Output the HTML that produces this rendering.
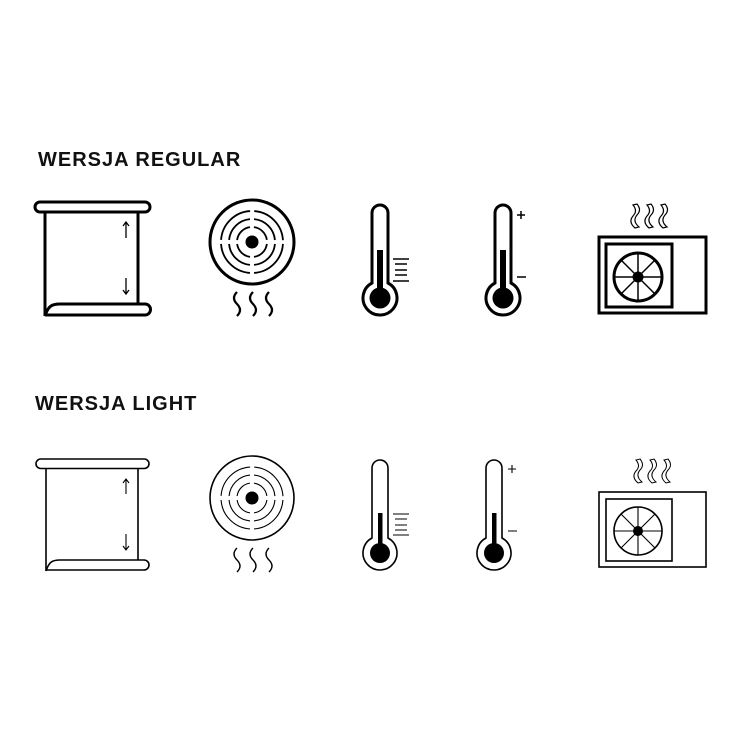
<!DOCTYPE html>
<html><head><meta charset="utf-8"><style>
html,body{margin:0;padding:0;background:#fff;}
svg{display:block}
text{font-family:"Liberation Sans",sans-serif;font-weight:bold;fill:#111}
</style></head><body>
<svg width="750" height="750" viewBox="0 0 750 750" xmlns="http://www.w3.org/2000/svg">
<rect width="750" height="750" fill="#fff"/>
<text x="38" y="166" font-size="20" letter-spacing="1">WERSJA REGULAR</text>
<text x="35" y="410" font-size="20" letter-spacing="1">WERSJA LIGHT</text>

<!-- REGULAR -->
<g fill="none" stroke="#000" stroke-width="3">
  <rect x="35" y="202" width="115" height="10" rx="5"/>
  <path d="M45 212 V316"/>
  <path d="M138 212 V304"/>
  <path d="M45 316 C48 306 52 304 60 304 H145 A5.5 5.5 0 0 1 145 315 H45"/>
  <g stroke-width="1.3"><path d="M126 223 V238 M123 226 L126 222 L129 226"/><path d="M126 278 V294 M123 290 L126 294 L129 290"/></g>
  <circle cx="252" cy="242" r="42"/>
  <g stroke-width="1.8">
    <circle cx="252" cy="242" r="31" stroke-dasharray="44.5 4.2" stroke-dashoffset="-2"/>
    <circle cx="252" cy="242" r="23" stroke-dasharray="32 4.1" stroke-dashoffset="-2"/>
    <circle cx="252" cy="242" r="15" stroke-dasharray="19.5 4" stroke-dashoffset="-2"/>
  </g>
  <g stroke-width="2.2"><path d="M237 292 q-6 6 0 12 q6 6 0 12"/><path d="M253 292 q-6 6 0 12 q6 6 0 12"/><path d="M269 292 q-6 6 0 12 q6 6 0 12"/></g>
  <path d="M372 283 V213 A8 8 0 0 1 388 213 V283 A17 17 0 1 1 372 283 Z"/>
  <g stroke-width="1.5"><path d="M393 259 H409 M395 264 H407 M395 270 H407 M395 275 H407 M393 281 H409"/></g>
  <path d="M495 283 V213 A8 8 0 0 1 511 213 V283 A17 17 0 1 1 495 283 Z"/>
  <g stroke-width="1.5"><path d="M517 215 H525 M521 211 V219 M517 277 H526"/></g>
  <rect x="599" y="237" width="107" height="76"/>
  <rect x="606" y="244" width="66" height="63"/>
  <circle cx="638" cy="277" r="24"/>
  <g stroke-width="1.5"><path d="M638 253 V301 M614 277 H662 M621 260 L655 294 M655 260 L621 294"/></g>
  <g stroke-width="1.2">
    <path d="M635 228 q-7-6 -2-12 q5-5 0-11 l4-1 q5 6 0 11 q-5 6 2 12 z"/>
    <path d="M649 228 q-7-6 -2-12 q5-5 0-11 l4-1 q5 6 0 11 q-5 6 2 12 z"/>
    <path d="M663 228 q-7-6 -2-12 q5-5 0-11 l4-1 q5 6 0 11 q-5 6 2 12 z"/>
  </g>
</g>
<g fill="#000">
  <circle cx="252" cy="242" r="6.5"/>
  <rect x="377" y="250" width="6" height="44"/><circle cx="380" cy="298" r="10.5"/>
  <rect x="500" y="250" width="6" height="44"/><circle cx="503" cy="298" r="10.5"/>
  <circle cx="638" cy="277" r="5.5"/>
</g>

<!-- LIGHT -->
<g fill="none" stroke="#000" stroke-width="1.6">
  <rect x="36" y="459" width="113" height="9.5" rx="4.75"/>
  <path d="M46 468.5 V571"/>
  <path d="M138 468.5 V560"/>
  <path d="M46 571 C49 562 52 560 60 560 H144 A5 5 0 0 1 144 570 H46"/>
  <g stroke-width="1.1"><path d="M126 480 V494 M123 483 L126 479 L129 483"/><path d="M126 534 V550 M123 546 L126 550 L129 546"/></g>
  <circle cx="252" cy="498" r="42"/>
  <g stroke-width="1.1">
    <circle cx="252" cy="498" r="31" stroke-dasharray="44.5 4.2" stroke-dashoffset="-2"/>
    <circle cx="252" cy="498" r="23" stroke-dasharray="32 4.1" stroke-dashoffset="-2"/>
    <circle cx="252" cy="498" r="15" stroke-dasharray="19.5 4" stroke-dashoffset="-2"/>
  </g>
  <g stroke-width="1.4"><path d="M237 548 q-6 6 0 12 q6 6 0 12"/><path d="M253 548 q-6 6 0 12 q6 6 0 12"/><path d="M269 548 q-6 6 0 12 q6 6 0 12"/></g>
  <path d="M372 538 V468 A8 8 0 0 1 388 468 V538 A17 17 0 1 1 372 538 Z"/>
  <g stroke-width="1.1"><path d="M393 514 H409 M395 519 H407 M395 525 H407 M395 530 H407 M393 535 H409"/></g>
  <path d="M486 538 V468 A8 8 0 0 1 502 468 V538 A17 17 0 1 1 486 538 Z"/>
  <g stroke-width="1.1"><path d="M508 469 H516 M512 465 V473 M508 531 H517"/></g>
  <rect x="599" y="492" width="107" height="75"/>
  <rect x="606" y="499" width="66" height="62"/>
  <circle cx="638" cy="531" r="24"/>
  <g stroke-width="1.1"><path d="M638 507 V555 M614 531 H662 M621 514 L655 548 M655 514 L621 548"/></g>
  <g stroke-width="1">
    <path d="M638 483 q-7-6 -2-12 q5-5 0-11 l4-1 q5 6 0 11 q-5 6 2 12 z"/>
    <path d="M652 483 q-7-6 -2-12 q5-5 0-11 l4-1 q5 6 0 11 q-5 6 2 12 z"/>
    <path d="M666 483 q-7-6 -2-12 q5-5 0-11 l4-1 q5 6 0 11 q-5 6 2 12 z"/>
  </g>
</g>
<g fill="#000">
  <circle cx="252" cy="498" r="6.5"/>
  <rect x="378" y="513" width="4.5" height="40"/><circle cx="380" cy="553" r="10"/>
  <rect x="492" y="513" width="4.5" height="40"/><circle cx="494" cy="553" r="10"/>
  <circle cx="638" cy="531" r="5"/>
</g>
</svg>
</body></html>
